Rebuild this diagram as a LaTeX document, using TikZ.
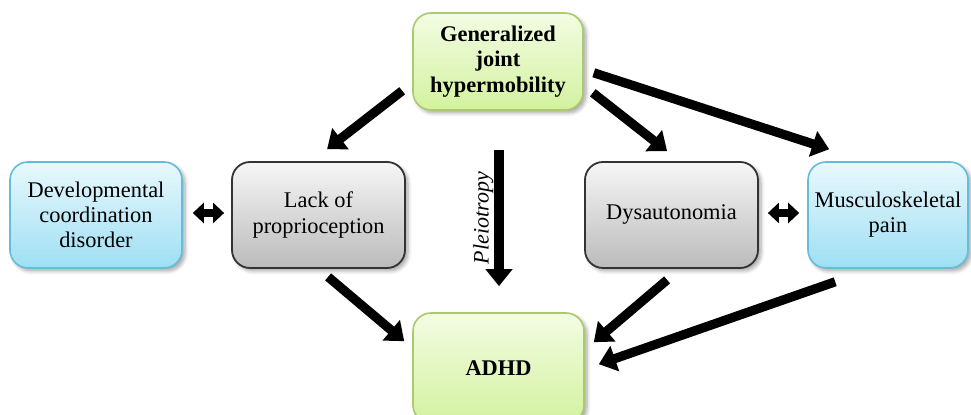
\documentclass[tikz,border=0pt]{standalone}
\usepackage{fontspec}
\setmainfont{Liberation Serif}
\usetikzlibrary{arrows.meta,shadows.blur}
\definecolor{gbord}{HTML}{A9CB6E}
\definecolor{gtop}{HTML}{F3FCE3}
\definecolor{gbot}{HTML}{D3F29F}
\definecolor{bbord}{HTML}{62BEDA}
\definecolor{btop}{HTML}{E9F8FD}
\definecolor{bbot}{HTML}{9EDFF3}
\definecolor{kbord}{HTML}{333333}
\definecolor{ktop}{HTML}{F6F6F6}
\definecolor{kbot}{HTML}{BBBBBB}
\tikzset{
  box/.style={rounded corners=9pt, inner sep=0pt, align=center,
    font=\fontsize{11.2}{12.6}\selectfont,
    blur shadow={shadow xshift=1.5pt, shadow yshift=-1.5pt, shadow blur steps=6, shadow opacity=35}},
  greenbox/.style={box, draw=gbord, line width=0.8pt, top color=gtop, bottom color=gbot},
  bluebox/.style={box, draw=bbord, line width=0.8pt, top color=btop, bottom color=bbot},
  graybox/.style={box, draw=kbord, line width=0.9pt, top color=ktop, bottom color=kbot},
  arr/.style={line width=4.6pt, -{Triangle[length=8.5pt,width=13pt]}},
  darr/.style={line width=4.2pt, {Triangle[length=5.5pt,width=10pt]}-{Triangle[length=5.5pt,width=10pt]}},
}
\begin{document}
\begin{tikzpicture}[x=0.5pt,y=-0.5pt]
\useasboundingbox (0,0) rectangle (971,415);
\node[greenbox, minimum width=85pt, minimum height=48.5pt] (gjh) at (498,61.5) {\textbf{Generalized}\\\textbf{joint}\\\textbf{hypermobility}};
\node[bluebox, minimum width=86pt, minimum height=53pt] (dcd) at (96,215) {Developmental\\coordination\\disorder};
\node[graybox, minimum width=86.5pt, minimum height=53pt] (lop) at (318.5,215) {Lack of\\proprioception};
\node[graybox, minimum width=86.5pt, minimum height=53pt] (dys) at (671.5,215) {Dysautonomia};
\node[bluebox, minimum width=80pt, minimum height=53pt] (mp) at (888,215) {Musculoskeletal\\pain};
\node[greenbox, minimum width=85.5pt, minimum height=55pt] (adhd) at (498.5,368) {\textbf{ADHD}};

\draw[arr] ([shift={(-10,-20)}]gjh.south west) -- ([shift={(96,-12)}]lop.north west);
\draw[arr] ([shift={(9,-18)}]gjh.south east) -- ([shift={(83,-10)}]dys.north west);
\draw[arr] ([shift={(10,-38)}]gjh.south east) -- ([shift={(22,-12)}]mp.north west);
\draw[arr] ([shift={(1,39)}]gjh.south) -- node[rotate=90, anchor=south, inner sep=1pt, yshift=-0.5pt, font=\fontsize{11}{12}\selectfont\itshape] (pl) {Pleiotropy} ([shift={(0.5,-26)}]adhd.north);
\draw[arr] ([shift={(97,8)}]lop.south west) -- ([shift={(-8,29)}]adhd.north west);
\draw[arr] ([shift={(83,11)}]dys.south west) -- ([shift={(9,30)}]adhd.north east);
\draw[arr] ([shift={(28,13)}]mp.south west) -- ([shift={(14,52)}]adhd.north east);
\draw[darr] ([shift={(10,-2)}]dcd.east) -- ([shift={(-7,-2)}]lop.west);
\draw[darr] ([shift={(9,-2)}]dys.east) -- ([shift={(-8,-2)}]mp.west);
\end{tikzpicture}
\end{document}
